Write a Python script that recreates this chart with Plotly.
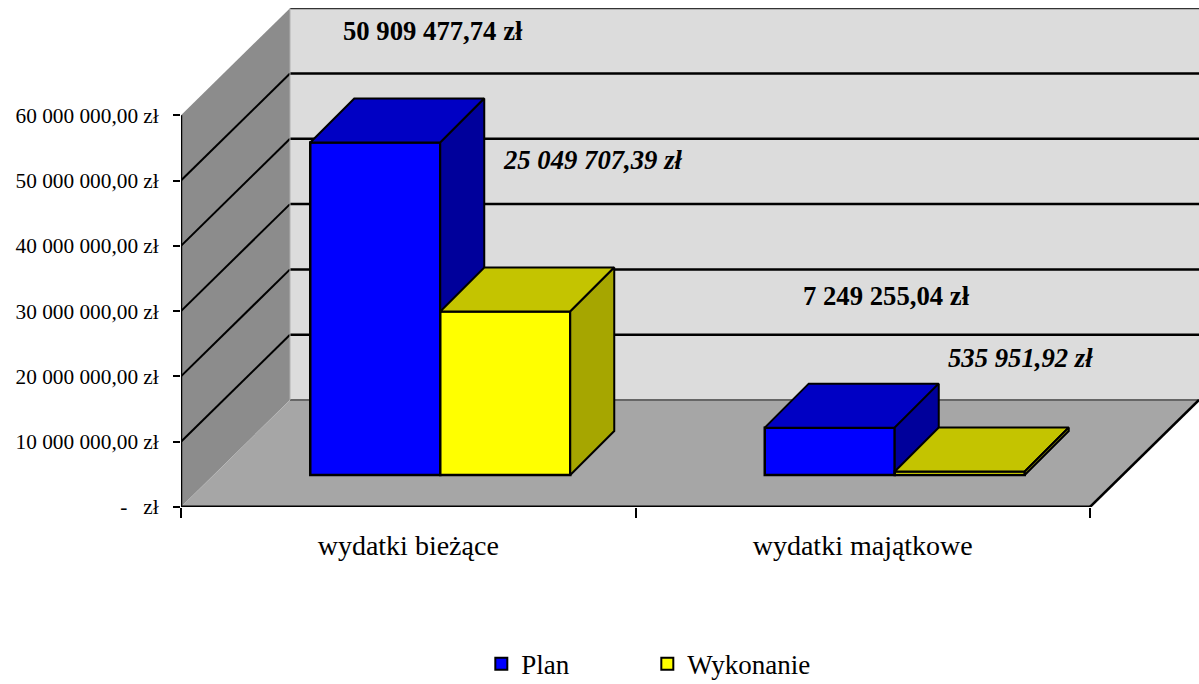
import plotly.graph_objects as go

categories = ["wydatki bieżące", "wydatki majątkowe"]
plan = [50909477.74, 7249255.04]
wykonanie = [25049707.39, 535951.92]
plan_labels = ["50 909 477,74 zł", "7 249 255,04 zł"]
wykonanie_labels = ["25 049 707,39 zł", "535 951,92 zł"]
tick_values = [0, 10e6, 20e6, 30e6, 40e6, 50e6, 60e6]
tick_labels = ["-   zł", "10 000 000,00 zł", "20 000 000,00 zł", "30 000 000,00 zł",
               "40 000 000,00 zł", "50 000 000,00 zł", "60 000 000,00 zł"]

W, H = 1199, 684
L, R, T, B = 181, 0, 8, 177
FONT = "Liberation Serif"

# scale: pixels per data unit
PX_X = 454.5
PX_Y = 65.3 / 10e6
plot_w, plot_h = W - L - R, H - T - B
x_range = [-0.5, -0.5 + plot_w / PX_X]
y_range = [0, plot_h / PX_Y]

def dx(px): return px / PX_X
def dy(px): return px / PX_Y

WALL_X, WALL_Y = dx(109), dy(107)     # full depth of the chart box
GAP_X, GAP_Y = dx(32), dy(32)         # box front -> bar front
BAR_W = dx(130)
DEPTH_X, DEPTH_Y = dx(44), dy(44)     # bar depth

def poly(points, fill, line="#000000", width=0):
    path = "M" + " L".join(f"{x},{y}" for x, y in points) + " Z"
    return dict(type="path", path=path, xref="x", yref="y", layer="below",
                fillcolor=fill, line=dict(color=line, width=width))

def seg(p, q, color="#000000", width=2):
    return dict(type="line", x0=p[0], y0=p[1], x1=q[0], y1=q[1], xref="x", yref="y",
                layer="below", line=dict(color=color, width=width))

x0, x1 = x_range[0], 1.5
top = tick_values[-1]
shapes = [
    poly([(x0, 0), (x0, top), (x0 + WALL_X, top + WALL_Y), (x0 + WALL_X, WALL_Y)], "#8c8c8c"),
    poly([(x0 + WALL_X, WALL_Y), (x0 + WALL_X, top + WALL_Y), (x1 + WALL_X, top + WALL_Y), (x1 + WALL_X, WALL_Y)], "#dcdcdc"),
    poly([(x0, 0), (x1, 0), (x1 + WALL_X, WALL_Y), (x0 + WALL_X, WALL_Y)], "#a6a6a6"),
]
for v in tick_values[1:-1]:
    shapes.append(seg((x0, v), (x0 + WALL_X, v + WALL_Y), width=2))
    shapes.append(seg((x0 + WALL_X, v + WALL_Y), (x1 + WALL_X, v + WALL_Y), width=2.5))
shapes.append(seg((x0 + WALL_X, top + WALL_Y), (x1 + WALL_X, top + WALL_Y), color="#333333", width=2))
shapes.append(seg((x0 + WALL_X, WALL_Y), (x1 + WALL_X, WALL_Y), color="#666666", width=2))
shapes.append(seg((x0 + WALL_X, WALL_Y), (x0 + WALL_X, top + WALL_Y), color="#b0b0b0", width=1))
shapes.append(seg((x1, 0), (x1 + WALL_X, WALL_Y), width=2.5))


def series(name, values, offset, front, top_col, side_col, xa, ya):
    traces = []
    xs = [i + offset + GAP_X for i in range(len(values))]
    traces.append(go.Bar(name=name, x=xs, y=values, base=GAP_Y, width=BAR_W,
                         xaxis=xa, yaxis=ya, marker=dict(color=front, line=dict(color="#000000", width=2.5))))
    for xc, v in zip(xs, values):
        xl, xr = xc - BAR_W / 2, xc + BAR_W / 2
        yb, yt = GAP_Y, GAP_Y + v
        traces.append(go.Scatter(
            x=[xl, xr, xr + DEPTH_X, xl + DEPTH_X, xl], y=[yt, yt, yt + DEPTH_Y, yt + DEPTH_Y, yt],
            mode="lines", fill="toself", fillcolor=top_col, line=dict(color="#000000", width=2),
            showlegend=False, hoverinfo="skip", xaxis=xa, yaxis=ya))
        traces.append(go.Scatter(
            x=[xr, xr + DEPTH_X, xr + DEPTH_X, xr, xr], y=[yb, yb + DEPTH_Y, yt + DEPTH_Y, yt, yb],
            mode="lines", fill="toself", fillcolor=side_col, line=dict(color="#000000", width=2),
            showlegend=False, hoverinfo="skip", xaxis=xa, yaxis=ya))
    return traces

fig = go.Figure()
fig.add_traces(series("Plan", plan, -BAR_W / 2, "#0000ff", "#0000c4", "#00009b", "x", "y"))
fig.add_traces(series("Wykonanie", wykonanie, BAR_W / 2, "#ffff00", "#c4c400", "#a6a600", "x2", "y2"))

def label(text, x, y, xs, ys, italic):
    return dict(text=f"<b><i>{text}</i></b>" if italic else f"<b>{text}</b>",
                x=x, y=y, xref="x", yref="y", showarrow=False, xshift=xs, yshift=ys,
                xanchor="center", yanchor="middle",
                font=dict(family=FONT, size=26.7, color="#000000"))

annotations = [
    label(plan_labels[0], 0, plan[0], 25, 144, False),
    label(wykonanie_labels[0], 0, wykonanie[0], 185, 183, True),
    label(plan_labels[1], 1, plan[1], 24, 164, False),
    label(wykonanie_labels[1], 1, wykonanie[1], 158, 146, True),
]

fig.update_layout(
    width=W, height=H, margin=dict(l=L, r=R, t=T, b=B, pad=0, autoexpand=False),
    paper_bgcolor="#ffffff", plot_bgcolor="#ffffff",
    barmode="overlay", shapes=shapes, annotations=annotations,
    font=dict(family=FONT, color="#000000"),
    legend=dict(orientation="h", x=0.295, xanchor="left", y=-0.315, yanchor="middle",
                font=dict(family=FONT, size=27), entrywidth=121, entrywidthmode="pixels",
                itemsizing="constant", bgcolor="rgba(0,0,0,0)"),
    xaxis=dict(range=x_range, tickmode="array", tickvals=[0, 1], ticktext=categories,
               ticks="", showgrid=False, zeroline=False, showline=False,
               tickfont=dict(family=FONT, size=28), ticklabelstandoff=19),
    xaxis2=dict(range=x_range, overlaying="x", side="bottom", tickmode="array",
                tickvals=[-0.5, 0.5, 1.5], ticktext=["", "", ""], ticks="outside", ticklen=10,
                tickwidth=2, tickcolor="#000000", showgrid=False, zeroline=False),
    yaxis=dict(range=y_range, tickmode="array", tickvals=tick_values, ticktext=tick_labels,
               ticks="outside", ticklen=7, tickwidth=2, tickcolor="#000000",
               showline=False, showgrid=False, zeroline=False,
               tickfont=dict(family=FONT, size=21.3), ticklabelstandoff=10),
    yaxis2=dict(range=y_range, overlaying="y", side="left", showticklabels=False, ticks="",
                showgrid=False, zeroline=False),
)
fig.add_shape(type="line", xref="x", yref="y", x0=x0, x1=x1, y0=0, y1=0, layer="above",
              line=dict(color="#000000", width=3))
fig.add_shape(type="line", xref="x", yref="y", x0=x0, x1=x0, y0=0, y1=top, layer="above",
              line=dict(color="#000000", width=2.5))
fig.write_html("out.html", config={"displayModeBar": False},
               post_script="document.body.style.margin='0';")
